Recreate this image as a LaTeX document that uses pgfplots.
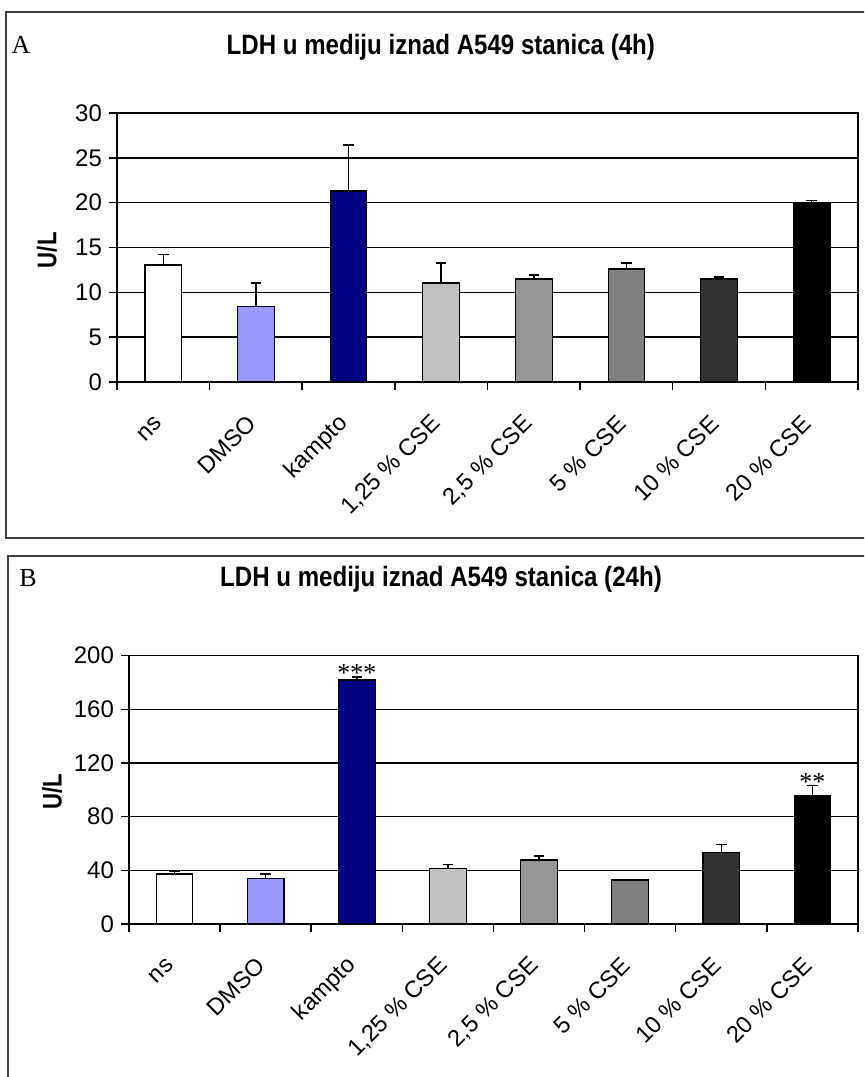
\documentclass[border=0pt]{standalone}
\usepackage{fontspec}
\setmainfont{Liberation Sans}
\newfontfamily\seriffont{Liberation Serif}
\usepackage{pgfplots}
\pgfplotsset{compat=1.18}
\definecolor{cDMSO}{RGB}{153,153,255}
\definecolor{cKampto}{RGB}{0,0,128}
\definecolor{c125}{RGB}{192,192,192}
\definecolor{c25}{RGB}{150,150,150}
\definecolor{c5}{RGB}{128,128,128}
\definecolor{c10}{RGB}{51,51,51}
\definecolor{c20}{RGB}{0,0,0}
\newcommand\mybar[4]{\addplot[fill=#1, draw=black, line width=0.6pt,
   error bars/.cd, y dir=plus, y explicit,
   error bar style={black,line width=0.75pt},
   error mark options={rotate=90, mark size=2.6pt, line width=0.75pt, black}]
   coordinates {(#2,#3) +- (0,#4)};}
\newcommand\mybarnoerr[3]{\addplot[fill=#1, draw=black, line width=0.6pt]
   coordinates {(#2,#3)};}
\pgfplotsset{
  panel/.style={
    scale only axis,
    ybar, bar width=18.3pt, bar shift=0pt,
    xmin=0.5, xmax=8.5,
    xtick={0.5,1.5,...,8.5},
    x tick label as interval,
    xticklabels={ns,DMSO,kampto,{1,25 \% CSE},{2,5 \% CSE},{5 \% CSE},{10 \% CSE},{20 \% CSE}},
    xticklabel style={rotate=45, anchor=east, font=\fontsize{11.8}{13}\selectfont, inner sep=1pt, yshift=-9pt, xshift=-11pt},
    yticklabel style={font=\fontsize{12}{14}\selectfont},
    /pgf/number format/assume math mode=true,
    tick align=outside, major tick length=4pt,
    xtick pos=bottom, ytick pos=left,
    tick style={black, line width=0.75pt},
    axis line style={black, line width=0.75pt},
    ymajorgrids, grid style={black, line width=0.75pt},
    ymin=0,
    title style={font=\bfseries\fontsize{14}{16}\selectfont, anchor=center},
    ylabel style={font=\bfseries\fontsize{13.5}{15}\selectfont, anchor=center},
  }
}
\begin{document}
\begin{tikzpicture}
\useasboundingbox (0,0) rectangle (432pt,538.5pt);
\clip (0,0) rectangle (432pt,538.5pt);
% panel frames
\draw[black!75, line width=1.1pt] (440pt,532.5pt) -- (3pt,532.5pt) -- (3pt,269.5pt) -- (440pt,269.5pt);
\draw[black!75, line width=1.1pt] (440pt,260.5pt) -- (4pt,260.5pt) -- (4pt,-5pt);
\node[font=\seriffont\fontsize{13}{15}\selectfont] at (10.5pt,516pt) {A};
\node[font=\seriffont\fontsize{13}{15}\selectfont] at (14pt,249.5pt) {B};

\begin{axis}[panel,
  at={(58.5pt,347.5pt)}, anchor=south west,
  width=370.5pt, height=134.5pt,
  ymax=30, ytick={0,5,...,30},
  title={\scalebox{0.86}[1]{LDH u mediju iznad A549 stanica (4h)}},
  title style={at={(axis description cs:0.437,1.20)}},
  ylabel={\scalebox{0.82}[1]{U/L}},
  ylabel style={at={(axis description cs:-0.0945,0.49)}},
]
\mybar{white}{1}{13.05}{1.15}
\mybar{cDMSO}{2}{8.4}{2.64}
\mybar{cKampto}{3}{21.3}{5.13}
\mybar{c125}{4}{11.04}{2.23}
\mybar{c25}{5}{11.49}{0.45}
\mybar{c5}{6}{12.6}{0.67}
\mybar{c10}{7}{11.49}{0.22}
\mybar{c20}{8}{19.93}{0.29}
\end{axis}

\begin{axis}[panel,
  at={(64.5pt,76.5pt)}, anchor=south west,
  width=364.5pt, height=134.15pt,
  ymax=200, ytick={0,40,...,200},
  title={\scalebox{0.86}[1]{LDH u mediju iznad A549 stanica (24h)}},
  title style={at={(axis description cs:0.428,1.241)}},
  ylabel={\scalebox{0.82}[1]{U/L}},
  ylabel style={at={(axis description cs:-0.1056,0.492)}},
]
\mybar{white}{1}{37.3}{1.7}
\mybar{cDMSO}{2}{34.1}{3.2}
\mybar{cKampto}{3}{181.9}{2.4}
\mybar{c125}{4}{41.5}{3.0}
\mybar{c25}{5}{47.7}{3.0}
\mybarnoerr{c5}{6}{32.8}
\mybar{c10}{7}{53.4}{6.0}
\mybar{c20}{8}{95.6}{7.5}
\node[font=\seriffont\fontsize{13}{15}\selectfont, anchor=base, inner sep=0pt] at (axis cs:3,180.4) {***};
\node[font=\seriffont\fontsize{13}{15}\selectfont, anchor=base, inner sep=0pt] at (axis cs:8,99.4) {**};
\end{axis}
\end{tikzpicture}
\end{document}
